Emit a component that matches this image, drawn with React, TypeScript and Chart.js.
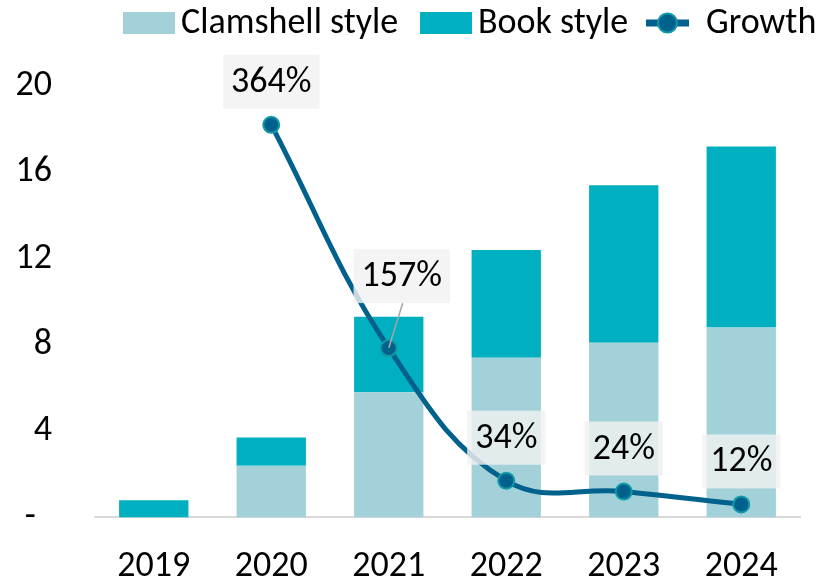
import React, { useEffect, useRef } from "react";
import { Chart, registerables } from "chart.js";

Chart.register(...registerables);

const categories = ["2019", "2020", "2021", "2022", "2023", "2024"];
const clamshell = [0, 2.4, 5.8, 7.4, 8.1, 8.8];
const book = [0.8, 1.3, 3.5, 5.0, 7.3, 8.4];
const growth = [null, 364, 157, 34, 24, 12];
const growthLabels = ["", "364%", "157%", "34%", "24%", "12%"];
const yTickValues = [0, 4, 8, 12, 16, 20];
const seriesNames = ["Clamshell style", "Book style", "Growth"];

const FONT = "Carlito, Lato, 'Open Sans', sans-serif";
const FS = 36;
const C_CLAM = "#A2D1D9";
const C_BOOK = "#00B0C0";
const C_LINE = "#00618C";
const C_POINT_BORDER = "#1199A8";

// label offsets from point (dx, dy) – style only
const labelOffset = (i: number) => (i === 2 ? { dx: 13, dy: -72 } : { dx: 0, dy: -43 });

const growthLabelPlugin = {
  id: "growthLabels",
  afterDatasetsDraw(chart: any) {
    const ctx = chart.ctx;
    const meta = chart.getDatasetMeta(0);
    ctx.save();
    ctx.font = `${FS}px ${FONT}`;
    ctx.textAlign = "center";
    ctx.textBaseline = "middle";
    meta.data.forEach((pt: any, i: number) => {
      const txt = growthLabels[i];
      if (!txt || growth[i] == null) return;
      const { dx, dy } = labelOffset(i);
      const cx = pt.x + dx;
      const cy = pt.y + dy;
      const w = ctx.measureText(txt).width + 16;
      const h = 54;
      if (i === 2) {
        ctx.strokeStyle = "#A6A6A6";
        ctx.lineWidth = 1.5;
        ctx.beginPath();
        ctx.moveTo(cx + 1, cy + h / 2);
        ctx.lineTo(pt.x, pt.y);
        ctx.stroke();
      }
      ctx.fillStyle = "rgba(242,242,242,0.82)";
      ctx.fillRect(cx - w / 2, cy - h / 2, w, h);
      ctx.fillStyle = "#000";
      ctx.fillText(txt, cx, cy + 1);
    });
    ctx.restore();
  },
};

// legend item layout (x of marker, x of text) – style only
const legendLayout = [
  { mx: 123, tx: 181 },
  { mx: 420, tx: 478 },
  { mx: 646, tx: 706 },
];

const legendPlugin = {
  id: "customLegend",
  afterDraw(chart: any) {
    const ctx = chart.ctx;
    ctx.save();
    ctx.font = `${FS}px ${FONT}`;
    ctx.textBaseline = "middle";
    ctx.textAlign = "left";
    const y = 23;
    const colors = [C_CLAM, C_BOOK];
    for (let i = 0; i < 2; i++) {
      ctx.fillStyle = colors[i];
      ctx.fillRect(legendLayout[i].mx, y - 11, 52, 22);
      ctx.fillStyle = "#000";
      ctx.fillText(seriesNames[i], legendLayout[i].tx, y + 1);
    }
    const x = legendLayout[2].mx;
    ctx.strokeStyle = C_LINE;
    ctx.lineWidth = 7;
    ctx.beginPath();
    ctx.moveTo(x, y);
    ctx.lineTo(x + 43, y);
    ctx.stroke();
    ctx.beginPath();
    ctx.arc(x + 21.5, y, 9.5, 0, Math.PI * 2);
    ctx.fillStyle = C_LINE;
    ctx.fill();
    ctx.lineWidth = 2;
    ctx.strokeStyle = C_POINT_BORDER;
    ctx.stroke();
    ctx.fillStyle = "#000";
    ctx.fillText(seriesNames[2], legendLayout[2].tx, y + 1);
    ctx.restore();
  },
};

export default function App() {
  const ref = useRef<HTMLCanvasElement>(null);
  useEffect(() => {
    if (!ref.current) return;
    const chart = new Chart(ref.current, {
      type: "bar",
      data: {
        labels: categories,
        datasets: [
          {
            type: "line",
            label: seriesNames[2],
            data: growth as any,
            yAxisID: "y1",
            borderColor: C_LINE,
            borderWidth: 5,
            pointRadius: 8,
            pointBackgroundColor: C_LINE,
            pointBorderColor: C_POINT_BORDER,
            pointBorderWidth: 2,
            tension: 0.4,
            order: 0,
          } as any,
          {
            type: "bar",
            label: seriesNames[0],
            data: clamshell,
            backgroundColor: C_CLAM,
            stack: "s",
            yAxisID: "y",
            order: 1,
            categoryPercentage: 1,
            barPercentage: 0.59,
          },
          {
            type: "bar",
            label: seriesNames[1],
            data: book,
            backgroundColor: C_BOOK,
            stack: "s",
            yAxisID: "y",
            order: 2,
            categoryPercentage: 1,
            barPercentage: 0.59,
          },
        ],
      },
      options: {
        responsive: false,
        animation: false,
        devicePixelRatio: 1,
        layout: { padding: { left: 15, right: 21, top: 86, bottom: 0 } },
        plugins: {
          legend: { display: false },
          tooltip: { enabled: false },
        },
        scales: {
          x: {
            stacked: true,
            grid: { display: false, drawTicks: false },
            border: { display: true, color: "#D9D9D9", width: 2 },
            ticks: { color: "#000", font: { family: FONT, size: FS }, padding: 28 },
            afterFit: (s: any) => {
              s.height = 64;
            },
          },
          y: {
            stacked: true,
            min: 0,
            max: 20,
            grid: { display: false, drawTicks: false },
            border: { display: false },
            afterBuildTicks: (s: any) => {
              s.ticks = yTickValues.map((v) => ({ value: v }));
            },
            ticks: {
              color: "#000",
              font: { family: FONT, size: FS },
              padding: 43,
              callback: (v: any) => (Number(v) === 0 ? "-  " : String(v)),
            },
            afterFit: (s: any) => {
              s.width = 80;
            },
          },
          y1: {
            display: false,
            min: 0,
            max: 400,
            position: "right",
          },
        },
      },
      plugins: [growthLabelPlugin, legendPlugin],
    } as any);
    return () => chart.destroy();
  }, []);
  return (
    <div style={{ position: "fixed", left: 0, top: 0, width: 821, height: 582, background: "#fff" }}>
      <canvas ref={ref} width={821} height={582} />
    </div>
  );
}
